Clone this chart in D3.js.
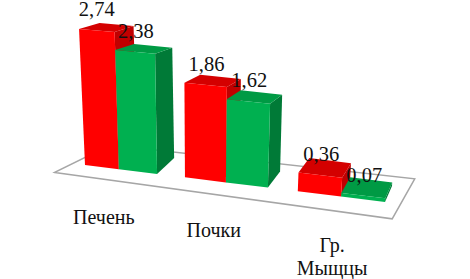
<!DOCTYPE html>
<html>
<head>
<meta charset="utf-8">
<script src="https://cdn.jsdelivr.net/npm/d3@7"></script>
<style>
    html, body { margin: 0; padding: 0; background: #fff; }
    text { font-family: "Liberation Serif", serif; fill: #111; }
</style>
</head>
<body>
<div id="chart"></div>
<script>
var categories = [["Печень"], ["Почки"], ["Гр.", "Мыщцы"]];
var redValues = [2.74, 1.86, 0.36];
var greenValues = [2.38, 1.62, 0.07];
var valueLabels = { red: ["2,74", "1,86", "0,36"], green: ["2,38", "1,62", "0,07"] };

var width = 470, height = 279;
var barUnits = 1, gapUnits = 0.7;
var slotUnits = 2 * barUnits + gapUnits;

var svg = d3.select("#chart").append("svg")
    .attr("width", width)
    .attr("height", height)
    .style("display", "block");

// Slightly curved scale, bars get wider to the right like in the 3D original
var xPos = d3.scalePow().exponent(1.09).domain([0, 7.4]).range([85, 385]);
var yBase = d3.scaleLinear().domain([85, 385]).range([165, 202]);
var yVal = d3.scaleLinear().domain([0, 3]).range([0, 149]);
var zoomByX = d3.scaleLinear().domain([85, 385]).range([1, 1.07]);
var depthX = d3.scaleLinear().domain([79, 385]).range([20.5, 7]);
var depthY = d3.scaleLinear().domain([0, 118]).range([16, 6]).clamp(true);
var labelShift = d3.scaleLinear().domain([121, 341]).range([-15, -9]);

// pos along the floor, value up from the floor, depth 0 = front of bar, 1 = back
function project(pos, value, depth) {
    var x0 = xPos(pos);
    var h = yVal(value) * zoomByX(x0);
    var xTop = x0 + 0.00038 * (x0 - 200) * h;
    return [xTop + depth * depthX(xTop), yBase(x0) - h - depth * depthY(h)];
}

function quad(points) {
    return points.map(function(p) { return p.join(","); }).join(" ");
}

// Floor
svg.append("polygon")
    .attr("points", quad([
        project(-0.55, 0, -0.6),
        project(7.7, 0, -0.95),
        project(7.85, 0, 1.6),
        project(0, 0, 1.25)
    ]))
    .attr("fill", "#fff")
    .attr("stroke", "#a6a6a6")
    .attr("stroke-width", 1.5);

var bars = [];
categories.forEach(function(c, i) {
    var start = i * slotUnits;
    bars.push({ pos: start, value: redValues[i], label: valueLabels.red[i],
        front: "#ff0000", top: "#d40000", side: "#c00000" });
    bars.push({ pos: start + barUnits, value: greenValues[i], label: valueLabels.green[i],
        front: "#00b050", top: "#009a44", side: "#007a37" });
});

var bar = svg.selectAll(".bar")
    .data(bars)
    .enter().append("g")
    .attr("class", "bar");

bar.append("polygon")
    .attr("fill", function(d) { return d.side; })
    .attr("points", function(d) {
        var r = d.pos + barUnits;
        return quad([project(r, 0, 0), project(r, 0, 1), project(r, d.value, 1), project(r, d.value, 0)]);
    });

bar.append("polygon")
    .attr("fill", function(d) { return d.top; })
    .attr("points", function(d) {
        var r = d.pos + barUnits;
        return quad([project(d.pos, d.value, 0), project(r, d.value, 0), project(r, d.value, 1), project(d.pos, d.value, 1)]);
    });

bar.append("polygon")
    .attr("fill", function(d) { return d.front; })
    .attr("points", function(d) {
        var r = d.pos + barUnits;
        return quad([project(d.pos, 0, 0), project(r, 0, 0), project(r, d.value, 0), project(d.pos, d.value, 0)]);
    });

// Value labels sit above the front top edge
svg.selectAll(".value-label")
    .data(bars)
    .enter().append("text")
    .attr("class", "value-label")
    .attr("text-anchor", "middle")
    .attr("font-size", 20.5)
    .attr("x", function(d) { return project(d.pos + barUnits / 2, d.value, 0)[0] + 1; })
    .attr("y", function(d) { return project(d.pos + barUnits / 2, d.value, 0)[1] - 14; })
    .text(function(d) { return d.label; });

// Category labels
var catLabel = svg.selectAll(".cat-label")
    .data(categories)
    .enter().append("text")
    .attr("class", "cat-label")
    .attr("text-anchor", "middle")
    .attr("font-size", 20)
    .attr("transform", function(d, i) {
        var p = project(i * slotUnits + barUnits, 0, 0);
        return "translate(" + (p[0] + labelShift(p[0])) + "," + (p[1] + 55) + ")";
    });

catLabel.selectAll("tspan")
    .data(function(d) { return d; })
    .enter().append("tspan")
    .attr("x", 0)
    .attr("dy", function(d, i) { return i === 0 ? 0 : 23; })
    .text(function(d) { return d; });
</script>
</body>
</html>
